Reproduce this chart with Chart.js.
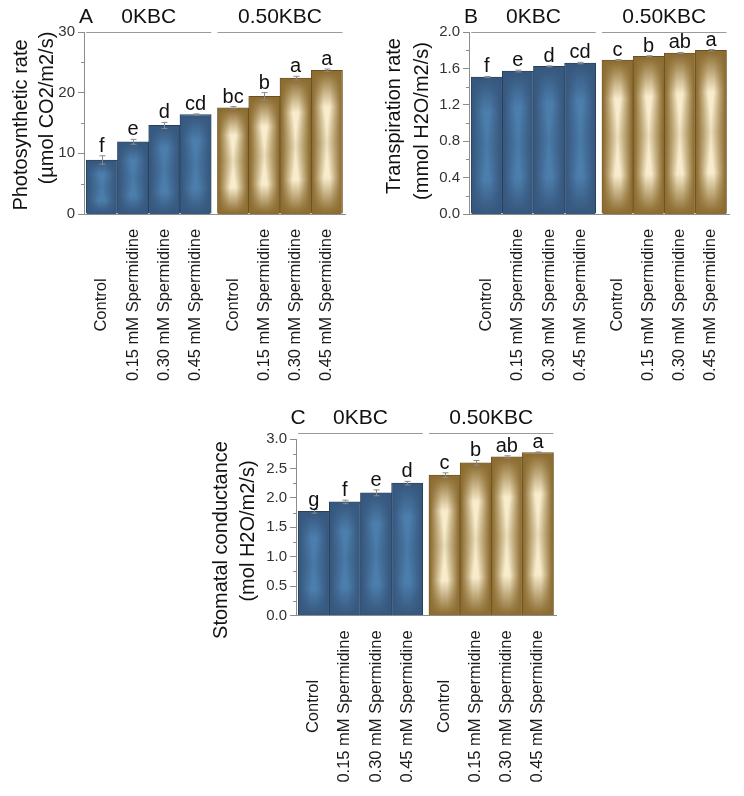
<!DOCTYPE html>
<html><head><meta charset="utf-8">
<script src="https://cdn.jsdelivr.net/npm/chart.js@4.4.1/dist/chart.umd.min.js"></script>
<style>
html,body{margin:0;padding:0;background:#fff;width:744px;height:796px;overflow:hidden}
canvas{position:absolute;left:0;top:0}
</style></head><body>
<canvas id="cA" width="744" height="796"></canvas>
<canvas id="cB" width="744" height="796"></canvas>
<canvas id="cC" width="744" height="796"></canvas>
<script>
// ---------- data ----------
const categories = ['Control','0.15 mM Spermidine','0.30 mM Spermidine','0.45 mM Spermidine',
                    'Control','0.15 mM Spermidine','0.30 mM Spermidine','0.45 mM Spermidine'];
const groupNames = ['0KBC','0.50KBC'];
const barPositions = [0,1,2,3,4.2,5.2,6.2,7.2];

const photoValues  = [8.9,11.9,14.6,16.4,17.5,19.4,22.4,23.7];
const photoErrors  = [0.7,0.4,0.5,0.1,0.2,0.6,0.3,0.2];
const photoLetters = ['f','e','d','cd','bc','b','a','a'];
const photoTicks   = [0,10,20,30];
const photoTickLabels = ['0','10','20','30'];
const photoMinor   = [5,15,25];

const transValues  = [1.505,1.571,1.623,1.659,1.692,1.733,1.769,1.799];
const transErrors  = [0.006,0.01,0.005,0.008,0.005,0.006,0.006,0.008];
const transLetters = ['f','e','d','cd','c','b','ab','a'];
const transTicks   = [0,0.4,0.8,1.2,1.6,2.0];
const transTickLabels = ['0.0','0.4','0.8','1.2','1.6','2.0'];
const transMinor   = [0.2,0.6,1.0,1.4,1.8];

const stomValues   = [1.77,1.93,2.085,2.25,2.385,2.595,2.695,2.77];
const stomErrors   = [0.03,0.03,0.05,0.03,0.04,0.04,0.02,0.01];
const stomLetters  = ['g','f','e','d','c','b','ab','a'];
const stomTicks    = [0,0.5,1.0,1.5,2.0,2.5,3.0];
const stomTickLabels = ['0.0','0.5','1.0','1.5','2.0','2.5','3.0'];
const stomMinor    = [0.25,0.75,1.25,1.75,2.25,2.75];

// ---------- styling ----------
const FONT = '"Liberation Sans", Arial, Helvetica, sans-serif';
const BLUE = {base:'#44709c', border:'#2a3f57', dark:[55,88,126], light:[76,126,172]};
const GOLD = {base:'#a88646', border:'#6a5020', dark:[140,108,48], light:[248,236,204]};
const AXIS = '#8c8c8c';

const texCache = {};
function shadeCanvas(w, h, pal) {
  w = Math.max(1, w); h = Math.max(1, h);
  const key = w + 'x' + h + pal.base;
  if (texCache[key]) return texCache[key];
  const c = document.createElement('canvas'); c.width = w; c.height = h;
  const g = c.getContext('2d');
  const img = g.createImageData(w, h);
  for (let j = 0; j < h; j++) {
    const v = (j + 0.5) / h;
    const dy = Math.abs(v - 0.5) * 2;
    const mid = Math.max(0, 1 - dy / 0.5);
    const edge = 0.8 + 0.3 * mid;
    const hy = Math.min(1, (1 - dy) / 0.5);
    for (let i = 0; i < w; i++) {
      const u = (i + 0.5) / w;
      const dx = Math.abs(u - 0.5) * 2;
      const hx = Math.min(1, Math.max(0, (1 - dx) / edge));
      let s = hx * hy;
      s = Math.pow(s, 1.05);
      const k = (j * w + i) * 4;
      for (let ch = 0; ch < 3; ch++) img.data[k + ch] = pal.dark[ch] + (pal.light[ch] - pal.dark[ch]) * s;
      img.data[k + 3] = 255;
    }
  }
  g.putImageData(img, 0, 0);
  texCache[key] = c;
  return c;
}

function decor(cfg) {
  return {
    id: 'decor' + cfg.key,
    afterDatasetsDraw(chart) {
      const ctx = chart.ctx;
      const meta = chart.getDatasetMeta(0);
      const ys = chart.scales.y;
      meta.data.forEach((bar, i) => {
        const p = bar.getProps(['x','y','base','width'], true);
        const l = p.x - p.width / 2 + 1, r = p.x + p.width / 2 - 1;
        const t = Math.min(p.y, p.base) + 1, b = Math.max(p.y, p.base);
        const tex = shadeCanvas(Math.round(r - l), Math.round(b - t), i < 4 ? BLUE : GOLD);
        ctx.drawImage(tex, l, t, r - l, b - t);
      });
      ctx.save();
      ctx.strokeStyle = '#8a8a8a'; ctx.lineWidth = 1;
      meta.data.forEach((bar, i) => {
        const x = Math.round(bar.x) + 0.5;
        const yT = ys.getPixelForValue(cfg.values[i] + cfg.errors[i]);
        const yB = ys.getPixelForValue(cfg.values[i] - cfg.errors[i]);
        ctx.beginPath();
        ctx.moveTo(x, yT); ctx.lineTo(x, yB);
        ctx.moveTo(x - 3, yT); ctx.lineTo(x + 3, yT);
        ctx.moveTo(x - 3, yB); ctx.lineTo(x + 3, yB);
        ctx.stroke();
        ctx.fillStyle = '#111';
        ctx.font = '20px ' + FONT;
        ctx.textAlign = 'center'; ctx.textBaseline = 'alphabetic';
        ctx.fillText(cfg.letters[i], bar.x, yT - 4);
      });
      ctx.restore();
    },
    afterDraw(chart) {
      const ctx = chart.ctx;
      const area = chart.chartArea;
      const ys = chart.scales.y;
      const meta = chart.getDatasetMeta(0);
      ctx.save();
      ctx.strokeStyle = AXIS; ctx.lineWidth = 1;
      cfg.minor.forEach(v => {
        const y = Math.round(ys.getPixelForValue(v)) + 0.5;
        ctx.beginPath(); ctx.moveTo(area.left - 3, y); ctx.lineTo(area.left, y); ctx.stroke();
      });
      const lineY = Math.round(area.top - cfg.lineOffset) + 0.5;
      const textY = lineY - 15.5;
      for (let g = 0; g < 2; g++) {
        const first = meta.data[g * 4], last = meta.data[g * 4 + 3];
        const l = first.x - first.width / 2, r = last.x + last.width / 2;
        ctx.strokeStyle = '#9a9a9a'; ctx.lineWidth = 1.2;
        ctx.beginPath(); ctx.moveTo(l, lineY); ctx.lineTo(r, lineY); ctx.stroke();
        ctx.fillStyle = '#111'; ctx.font = '21px ' + FONT;
        ctx.textAlign = 'center'; ctx.textBaseline = 'middle';
        ctx.fillText(groupNames[g], (l + r) / 2, textY);
      }
      ctx.fillText(cfg.panel, area.left + 2, textY);
      ctx.font = '16.5px ' + FONT; ctx.fillStyle = '#1a1a1a';
      meta.data.forEach((bar, i) => {
        ctx.save();
        ctx.translate(bar.x, area.bottom + 91);
        ctx.rotate(-Math.PI / 2);
        ctx.textAlign = 'center'; ctx.textBaseline = 'middle';
        ctx.fillText(categories[i], 0, 0);
        ctx.restore();
      });
      ctx.font = '20px ' + FONT; ctx.fillStyle = '#111';
      cfg.titles.forEach(t => {
        ctx.save();
        ctx.translate(t.x, t.y);
        ctx.rotate(-Math.PI / 2);
        ctx.textAlign = 'center'; ctx.textBaseline = 'middle';
        ctx.fillText(t.text, 0, 0);
        ctx.restore();
      });
      ctx.restore();
    }
  };
}

function makePanel(id, cfg) {
  const YW = 50;
  return new Chart(document.getElementById(id), {
    type: 'bar',
    data: {
      datasets: [{
        data: barPositions.map((x, i) => ({x: x, y: cfg.values[i]})),
        backgroundColor: barPositions.map((_, i) => i < 4 ? BLUE.base : GOLD.base),
        borderColor: barPositions.map((_, i) => i < 4 ? BLUE.border : GOLD.border),
        borderWidth: 1,
        barPercentage: 1, categoryPercentage: 1
      }]
    },
    options: {
      responsive: false, animation: false, devicePixelRatio: 1,
      layout: {padding: {left: cfg.axisX - YW, right: 744 - cfg.right, top: cfg.top, bottom: 796 - cfg.bottom}},
      plugins: {legend: {display: false}, tooltip: {enabled: false}},
      scales: {
        x: {
          type: 'linear', min: -0.57, max: 7.78, offset: false,
          afterBuildTicks: s => { s.ticks = barPositions.map(v => ({value: v})); },
          ticks: {display: false},
          grid: {display: false, drawTicks: false, offset: false},
          border: {display: true, color: AXIS, width: 1},
          afterFit: s => { s.height = 0; }
        },
        y: {
          min: 0, max: cfg.ticks[cfg.ticks.length - 1],
          afterBuildTicks: s => { s.ticks = cfg.ticks.map(v => ({value: v})); },
          ticks: {callback: (v, i) => cfg.tickLabels[i], font: {family: FONT, size: 15}, color: '#333', padding: 3},
          grid: {display: true, drawOnChartArea: false, drawTicks: true, tickLength: 6, tickColor: AXIS},
          border: {display: true, color: AXIS, width: 1},
          afterFit: s => { s.width = YW; }
        }
      }
    },
    plugins: [decor(cfg)]
  });
}

makePanel('cA', {
  key: 'A', panel: 'A', axisX: 84, right: 345, top: 32, bottom: 214, lineOffset: 0,
  values: photoValues, errors: photoErrors, letters: photoLetters,
  ticks: photoTicks, tickLabels: photoTickLabels, minor: photoMinor,
  titles: [{text: 'Photosynthetic rate', x: 21, y: 125}, {text: '(µmol CO2/m2/s)', x: 47.5, y: 108}]
});
makePanel('cB', {
  key: 'B', panel: 'B', axisX: 469, right: 729, top: 32, bottom: 214, lineOffset: 0,
  values: transValues, errors: transErrors, letters: transLetters,
  ticks: transTicks, tickLabels: transTickLabels, minor: transMinor,
  titles: [{text: 'Transpiration rate', x: 394, y: 116}, {text: '(mmol H2O/m2/s)', x: 422, y: 121}]
});
makePanel('cC', {
  key: 'C', panel: 'C', axisX: 296, right: 556, top: 439, bottom: 615.5, lineOffset: 6,
  values: stomValues, errors: stomErrors, letters: stomLetters,
  ticks: stomTicks, tickLabels: stomTickLabels, minor: stomMinor,
  titles: [{text: 'Stomatal conductance', x: 221, y: 540}, {text: '(mol H2O/m2/s)', x: 248, y: 531}]
});
</script>
</body></html>
